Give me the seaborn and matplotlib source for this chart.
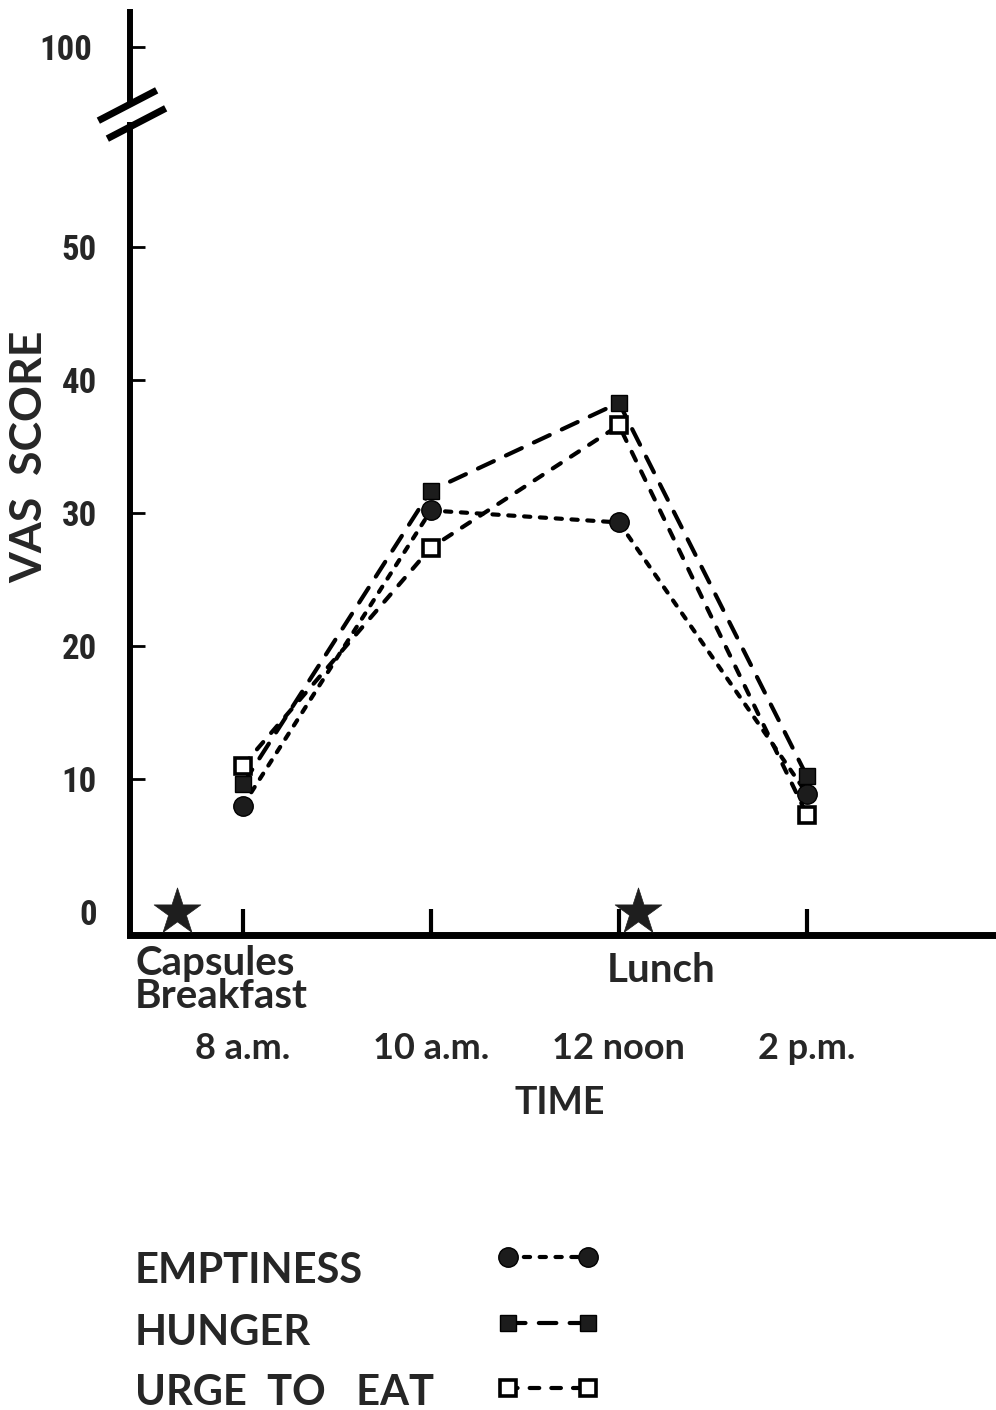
"""
VAS scores for emptiness, hunger and urge to eat across the day
"""

import matplotlib
matplotlib.use("Agg")
import matplotlib.pyplot as plt
import pandas as pd
import seaborn as sns

# -------------------------------------------------------
# Data
# -------------------------------------------------------

hours = [8, 10, 12, 14]
time_labels = ["8 a.m.", "10 a.m.", "12 noon", "2 p.m."]

emptiness = [8.0, 30.2, 29.3, 8.9]
hunger = [9.6, 31.7, 38.3, 10.2]
urge_to_eat = [11.0, 27.4, 36.6, 7.3]

series_names = ["EMPTINESS", "HUNGER", "URGE  TO   EAT"]

meal_hours = [7.3, 12.2]
meal_scores = [0, 0]

lower_ticks = [0, 10, 20, 30, 40, 50]
upper_ticks = [100]

sns.set_theme(style="white")
plt.rcParams["font.family"] = ["Lato", "DejaVu Sans"]
NUM_FONT = ["Roboto Condensed", "Liberation Sans Narrow", "Roboto", "DejaVu Sans"]

df = pd.DataFrame({
    "hour": hours * 3,
    "score": emptiness + hunger + urge_to_eat,
    "measure": [n for n in series_names for _ in hours],
})

styles = {
    "EMPTINESS": dict(marker="o", markersize=14, markerfacecolor="#1c1c1c",
                      markeredgewidth=1, linestyle=(0, (1.5, 2.3))),
    "HUNGER": dict(marker="s", markersize=12, markerfacecolor="#1c1c1c",
                   markeredgewidth=1, linestyle=(0, (4.2, 3.2))),
    "URGE  TO   EAT": dict(marker="s", markersize=11.5, markerfacecolor="white",
                           markeredgewidth=2.6, linestyle=(0, (2.3, 2.9))),
}

fig = plt.figure(figsize=(9.96, 14.1), dpi=100)
ax = fig.add_axes([0.1305, 0.3369, 0.8695, 0.5745])
ax_top = fig.add_axes([0.1305, 0.929, 0.8695, 0.0625])

# -------------------------------------------------------
# Lines
# -------------------------------------------------------

for name in series_names:
    sns.lineplot(
        data=df[df["measure"] == name], x="hour", y="score", ax=ax,
        color="black", linewidth=3, markeredgecolor="black",
        dash_capstyle="round", errorbar=None, legend=False,
        zorder=3, **styles[name],
    )

sns.scatterplot(x=meal_hours, y=meal_scores, ax=ax, marker="*", s=1250,
                color="#1e1e1e", edgecolor="#1e1e1e", linewidth=0.5,
                zorder=4, clip_on=False, legend=False)

# -------------------------------------------------------
# Axes styling
# -------------------------------------------------------

xlim = (6.80, 16.01)
ax.set_xlim(*xlim)
ax.set_ylim(-1.73, 59.2)
ax_top.set_xlim(*xlim)
ax_top.set_ylim(96.0, 102.6)

for a in (ax, ax_top):
    a.spines["top"].set_visible(False)
    a.spines["right"].set_visible(False)
    a.spines["left"].set_linewidth(4.3)
    a.spines["left"].set_color("black")
    a.set_facecolor("none")
ax.spines["bottom"].set_linewidth(5)
ax.spines["bottom"].set_color("black")
ax_top.spines["bottom"].set_visible(False)

ax.set_xticks(hours)
ax.set_xticklabels(time_labels, fontsize=26, fontweight="bold")
ax.tick_params(axis="x", direction="in", length=19, width=3, color="black",
               pad=70, bottom=True)
ax.set_yticks(lower_ticks)
ax.set_yticklabels([str(t) for t in lower_ticks], fontsize=25,
                   fontweight="bold", family=NUM_FONT, fontstretch="condensed")
ax.tick_params(axis="y", direction="in", length=11, width=2, color="black",
               pad=24, left=True)
ax.yaxis.get_major_ticks()[0].tick1line.set_visible(False)

ax_top.set_xticks([])
ax_top.set_yticks(upper_ticks)
ax_top.set_yticklabels([str(t) for t in upper_ticks], fontsize=25,
                       fontweight="bold", family=NUM_FONT,
                       fontstretch="condensed")
ax_top.tick_params(axis="y", direction="in", length=11, width=2,
                   color="black", pad=27, left=True)

# axis break slashes
brk = dict(marker=[(-1, -0.52), (1, 0.52)], markersize=42, linestyle="none",
           color="black", mec="black", mew=5, clip_on=False,
           solid_capstyle="round")
ax_top.plot([-0.004], [-0.05], transform=ax_top.transAxes, **brk)
ax.plot([0.007], [1.002], transform=ax.transAxes, **brk)

ax.set_xlabel("TIME", fontsize=27, fontweight="bold")
ax.xaxis.set_label_coords(0.4965, -0.186)
ax.set_ylabel("VAS  SCORE", fontsize=32, fontweight="bold")
ax.yaxis.set_label_coords(-0.093, 0.590)

ax.text(0.006, -0.012, "Capsules\nBreakfast", transform=ax.transAxes,
        ha="left", va="top", fontsize=29, fontweight="bold", linespacing=0.88)
ax.text(0.551, -0.021, "Lunch", transform=ax.transAxes,
        ha="left", va="top", fontsize=29, fontweight="bold")

# -------------------------------------------------------
# Legend: labels on the left, line samples on the right
# -------------------------------------------------------

for name, ybase in zip(series_names, [1283, 1345, 1405]):
    fig.text(135 / 996, (1410 - ybase) / 1410, name, ha="left",
             va="baseline", fontsize=30, fontweight="bold")

ax.legend(handles=ax.lines[:3], labels=["", "", ""], loc="upper left",
          bbox_to_anchor=(500 / 996, (1410 - 1246) / 1410),
          bbox_transform=fig.transFigure, frameon=False, numpoints=2,
          handlelength=3.45, fontsize=20, labelspacing=1.42, borderpad=0,
          borderaxespad=0, handletextpad=0)

fig.savefig("out.png", dpi=100, facecolor="white")
